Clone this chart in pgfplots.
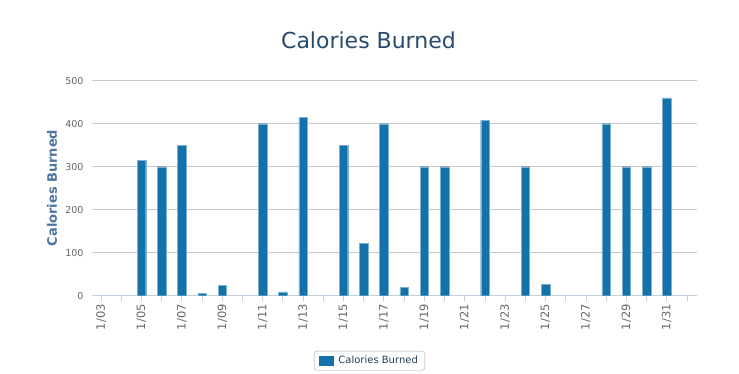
\documentclass[border=0pt]{standalone}
\usepackage{pgfplots}
\pgfplotsset{compat=1.18}
\usepackage{fontspec}
\setmainfont{DejaVu Sans}
\definecolor{barblue}{RGB}{20,114,170}
\definecolor{titleblue}{RGB}{39,75,109}
\definecolor{ytitle}{RGB}{77,117,158}
\definecolor{ticklab}{RGB}{102,102,102}
\definecolor{axisline}{RGB}{192,208,224}
\definecolor{gridc}{RGB}{200,200,200}
\begin{document}
\begin{tikzpicture}[x=1pt,y=1pt]
\path[use as bounding box] (0,0) rectangle (739,373);
\begin{axis}[
  at={(92pt,77.3pt)}, anchor=south west,
  scale only axis, width=605pt, height=215pt,
  xmin=2.55, xmax=32.5, ymin=0, ymax=500,
  ybar, bar width=8.5pt,
  axis x line*=bottom, axis y line*=left,
  x axis line style={draw=axisline, line width=0.8pt},
  y axis line style={draw=none},
  ytick={0,100,...,500},
  ymajorgrids, grid style={draw=gridc, line width=0.6pt},
  xtick={3,5,...,31},
  minor xtick={4,6,...,32},
  xticklabels={1/03,1/05,1/07,1/09,1/11,1/13,1/15,1/17,1/19,1/21,1/23,1/25,1/27,1/29,1/31},
  tick align=outside,
  xtick style={draw=axisline, line width=0.8pt},
  major tick length=5pt, minor tick length=5pt,
  ytick style={draw=none},
  /pgf/number format/assume math mode=true,
  x tick label style={rotate=90, anchor=east, font=\fontsize{11.5}{12}\selectfont, color=ticklab, yshift=0pt},
  y tick label style={font=\fontsize{9.5}{10}\selectfont, color=ticklab},
  legend style={at={(0.4587,0)}, anchor=center, yshift=-65pt,
    draw=gray!70, rounded corners=3pt, font=\fontsize{10}{12}\selectfont,
    inner xsep=5pt, inner ysep=3pt, text=titleblue!85!black},
  legend image code/.code={\fill[barblue, sharp corners] (0pt,-4pt) rectangle (14pt,5pt); \path (17pt,0pt);},
]
\addplot[fill=barblue, draw=barblue!55!white, line width=0.3pt] coordinates {
(5,315) (6,300) (7,350) (8,5) (9,24) (11,400) (12,9) (13,415)
(15,350) (16,122) (17,400) (18,20) (19,300) (20,300) (22,408)
(24,300) (25,26) (28,400) (29,300) (30,300) (31,460)
};
\addlegendentry{Calories Burned}
\end{axis}
\node[text=titleblue, font=\fontsize{22}{24}\selectfont] at (368.5,333) {Calories Burned};
\node[text=ytitle, font=\bfseries\fontsize{13}{15}\selectfont, rotate=90] at (52,185) {Calories Burned};
\end{tikzpicture}
\end{document}
